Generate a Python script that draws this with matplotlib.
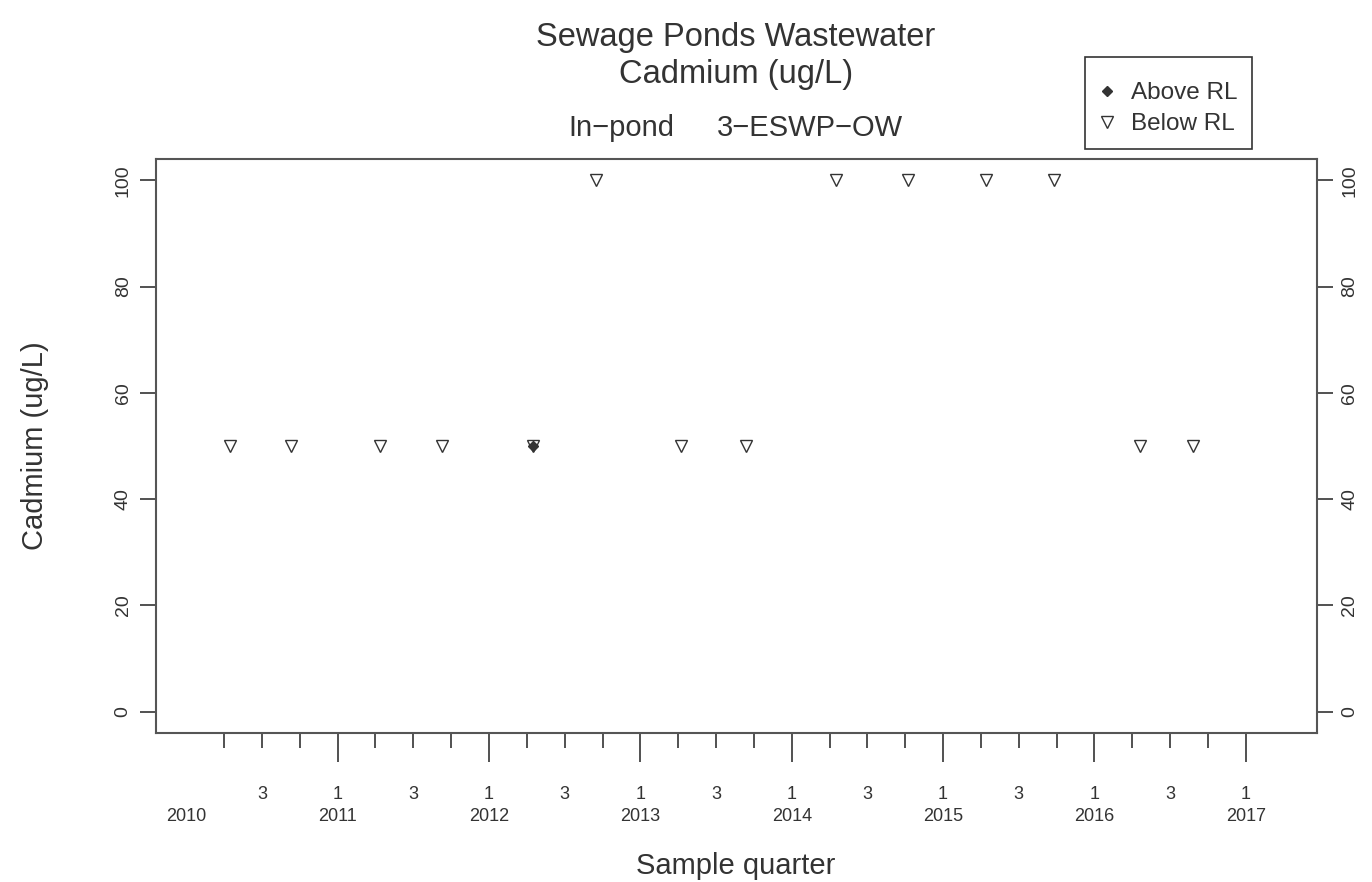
import matplotlib
matplotlib.use("Agg")
import matplotlib.pyplot as plt
from matplotlib.lines import Line2D
from matplotlib.patches import Rectangle
from matplotlib.transforms import blended_transform_factory

plt.rcParams['font.family'] = ['Liberation Sans', 'DejaVu Sans']

# sample dates (decimal years) and results, ug/L
below_rl_dates = [2010.29, 2010.69, 2011.28, 2011.69, 2012.29, 2012.71, 2013.27,
                  2013.70, 2014.29, 2014.77, 2015.28, 2015.73, 2016.30, 2016.65]
below_rl_values = [50, 50, 50, 50, 50, 100, 50, 50, 100, 100, 100, 100, 50, 50]
above_rl_dates = [2012.29]
above_rl_values = [50]

years = list(range(2010, 2018))
y_ticks = [0, 20, 40, 60, 80, 100]

ink = '#333333'
frame = '#555555'

fig = plt.figure(figsize=(13.72, 8.82), dpi=100)
ax = fig.add_axes([156 / 1372, 1 - 733 / 882, (1317 - 156) / 1372, (733 - 159) / 882])

ax.plot(below_rl_dates, below_rl_values, linestyle='none', marker='v', ms=8,
        mfc='white', mec=ink, mew=1.0)
ax.plot(above_rl_dates, above_rl_values, linestyle='none', marker='D', ms=5,
        mfc=ink, mec=ink)

ax.set_xlim(2009.80, 2017.47)
ax.set_ylim(-4, 104)

for s in ax.spines.values():
    s.set_color(frame)
    s.set_linewidth(1.5)

# x axis: quarter ticks, year ticks longer
major = years[1:]
minor = [y + q for y in years[:-1] for q in (0.25, 0.5, 0.75)]
ax.set_xticks(major, ['1'] * len(major))
ax.set_xticks(minor, ['3' if (m % 1) == 0.5 else '' for m in minor], minor=True)
ax.tick_params(axis='x', which='major', direction='out', length=21, width=1.2,
               color=ink, labelsize=13, labelcolor=ink, pad=17)
ax.tick_params(axis='x', which='minor', direction='out', length=10.5, width=1.2,
               color=ink, labelsize=13, labelcolor=ink, pad=27.5)

trans = blended_transform_factory(ax.transData, ax.transAxes)
for y in years:
    ax.text(y, -0.146, str(y), transform=trans, ha='center', va='center',
            fontsize=13, color=ink)

# y axis on both sides, labels parallel to the axis
ax.set_yticks(y_ticks)
ax.tick_params(axis='y', which='major', direction='out', length=11.5, width=1.2,
               color=ink, labelsize=14, labelcolor=ink, left=True, right=True,
               labelleft=True, labelright=True, labelrotation=90, pad=6)
for lab in ax.get_yticklabels():
    lab.set_va('center')

fig.text(35 / 1372, 1 - 446 / 882, 'Cadmium (ug/L)', rotation=90, ha='center',
         va='center', fontsize=21, color=ink)
fig.text(736 / 1372, 1 - 874 / 882, 'Sample quarter', ha='center', va='baseline',
         fontsize=21, color=ink)

# titles
fig.text(736 / 1372, 1 - 46 / 882, 'Sewage Ponds Wastewater', ha='center',
         va='baseline', fontsize=23.5, color=ink)
fig.text(736 / 1372, 1 - 83 / 882, 'Cadmium (ug/L)', ha='center',
         va='baseline', fontsize=23.5, color=ink)
fig.text(621 / 1372, 1 - 136 / 882, 'In\u2212pond', ha='center',
         va='baseline', fontsize=21, color=ink)
fig.text(810 / 1372, 1 - 136 / 882, '3\u2212ESWP\u2212OW', ha='center',
         va='baseline', fontsize=21, color=ink)

# legend: entries without frame, box drawn separately
handles = [
    Line2D([], [], linestyle='none', marker='D', ms=5, mfc=ink, mec=ink),
    Line2D([], [], linestyle='none', marker='v', ms=9, mfc='white', mec=ink, mew=1.0),
]
fig.legend(handles, ['Above RL', 'Below RL'], loc='upper left',
           bbox_to_anchor=(1097 / 1372, 1 - 82 / 882), borderaxespad=0,
           borderpad=0, fontsize=17.5, frameon=False, handlelength=0.8,
           handletextpad=0.6, labelspacing=0.38, labelcolor=ink)
fig.patches.append(Rectangle((1085 / 1372, 1 - 149 / 882), 167 / 1372, 92 / 882,
                             transform=fig.transFigure, fill=False,
                             edgecolor=ink, linewidth=1.2))

fig.savefig('out.png', dpi=100, facecolor='white')
